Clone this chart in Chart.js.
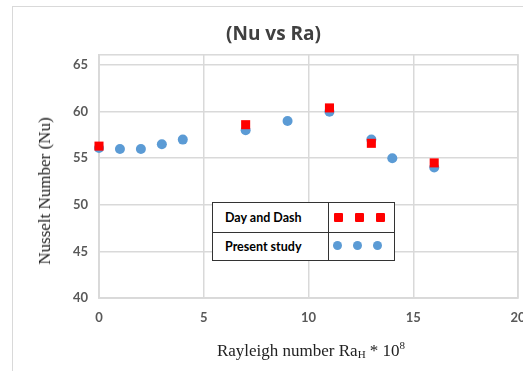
<!DOCTYPE html>
<html>
<head>
<meta charset="utf-8">
<script src="https://cdn.jsdelivr.net/npm/chart.js@4/dist/chart.umd.min.js"></script>
<style>
  html, body { margin:0; padding:0; background:#fff; overflow:hidden; width:523px; height:371px; }
  #frame { position:absolute; left:12px; top:6px; width:600px; height:500px; border:1px solid #d9d9d9; box-sizing:border-box; }
  #c { position:absolute; left:0; top:0; }
  .ytitle { position:absolute; left:45px; top:191px; transform:translate(-50%,-50%) rotate(-90deg); white-space:nowrap;
            font-family:'Liberation Serif', serif; font-size:17px; color:#222; }
  .xtitle { position:absolute; left:311px; top:350px; transform:translate(-50%,-50%); white-space:nowrap;
            font-family:'Liberation Serif', serif; font-size:17px; color:#222; }
  .xtitle sub { font-size:11px; vertical-align:-2px; }
  .xtitle sup { font-size:11px; vertical-align:7px; }
  #legend { position:absolute; left:212px; top:202px; width:183px; height:59px; border:1px solid #333; box-sizing:border-box; background:#fff; }
  #legend .row { position:absolute; left:0; width:100%; height:29px; }
  #legend .lab { position:absolute; left:12px; top:0; height:29px; line-height:29px; font-family:Lato, sans-serif; font-weight:bold; font-size:12.5px; color:#000; }
  #legend .vd { position:absolute; left:115px; top:0; width:1px; height:57px; background:#333; }
  #legend .hd { position:absolute; left:0; top:29px; width:181px; height:1px; background:#333; }
  .sq { position:absolute; width:9px; height:9px; background:#ff0000; border-radius:1px; }
  .ci { position:absolute; width:9px; height:9px; background:#5B9BD5; border-radius:50%; }
</style>
</head>
<body>
<div id="frame"></div>
<canvas id="c" width="560" height="371"></canvas>
<div class="ytitle">Nusselt Number (Nu)</div>
<div class="xtitle">Rayleigh number Ra<sub>H</sub> * 10<sup>8</sup></div>
<div id="legend">
  <div class="row" style="top:0"><div class="lab">Day and Dash</div></div>
  <div class="row" style="top:29px"><div class="lab">Present study</div></div>
  <div class="vd"></div>
  <div class="hd"></div>
  <div class="sq" style="left:121px;top:10px"></div>
  <div class="sq" style="left:142px;top:10px"></div>
  <div class="sq" style="left:163px;top:10px"></div>
  <div class="ci" style="left:120px;top:38px"></div>
  <div class="ci" style="left:140px;top:38px"></div>
  <div class="ci" style="left:160px;top:38px"></div>
</div>
<script>
// ---- data ----
const titleText = '(Nu vs Ra)';
const presentLabel = 'Present study';
const presentRa = [0, 1, 2, 3, 4, 7, 9, 11, 13, 14, 16];
const presentNu = [56.1, 56, 56, 56.5, 57, 58, 59, 60, 57, 55, 54];
const dayDashLabel = 'Day and Dash';
const dayDashRa = [0, 7, 11, 13, 16];
const dayDashNu = [56.3, 58.6, 60.4, 56.6, 54.5];
const xTicks = [0, 5, 10, 15, 20];
const yTicks = [40, 45, 50, 55, 60, 65];

const gridColor = '#d9d9d9';

const plotBorder = {
  id: 'plotBorder',
  beforeDatasetsDraw(chart) {
    const a = chart.chartArea, ctx = chart.ctx;
    ctx.save();
    ctx.strokeStyle = gridColor;
    ctx.lineWidth = 1.5;
    ctx.strokeRect(a.left, a.top, a.right - a.left, a.bottom - a.top);
    ctx.restore();
  }
};

function draw() {
  new Chart(document.getElementById('c'), {
    type: 'scatter',
    data: {
      datasets: [
        {
          label: dayDashLabel,
          data: dayDashRa.map((x, i) => ({ x, y: dayDashNu[i] })),
          pointStyle: 'rect',
          pointRadius: 6.4,
          pointHoverRadius: 6.4,
          backgroundColor: '#ff0000',
          borderWidth: 0,
          clip: false
        },
        {
          label: presentLabel,
          data: presentRa.map((x, i) => ({ x, y: presentNu[i] })),
          pointStyle: 'circle',
          pointRadius: 5,
          pointHoverRadius: 5,
          backgroundColor: '#5B9BD5',
          borderWidth: 0,
          clip: false
        }
      ]
    },
    options: {
      responsive: false,
      animation: false,
      events: [],
      layout: { padding: { left: 29, right: 42, top: 0, bottom: 0 } },
      plugins: {
        legend: { display: false },
        tooltip: { enabled: false },
        title: {
          display: true,
          text: titleText,
          color: '#404040',
          font: { family: 'Open Sans', weight: 'bold', size: 19 },
          padding: { top: 23, bottom: 9 }
        }
      },
      scales: {
        x: {
          type: 'linear',
          min: xTicks[0],
          max: xTicks[xTicks.length - 1],
          afterBuildTicks: s => { s.ticks = xTicks.map(v => ({ value: v })); },
          afterFit: s => { s.height = 73; },
          grid: { color: gridColor, lineWidth: 1.5, drawTicks: false },
          border: { color: gridColor, width: 1.5 },
          ticks: { color: '#595959', font: { family: 'Lato', weight: 'bold', size: 13 }, padding: 12, maxRotation: 0 }
        },
        y: {
          type: 'linear',
          min: 40,
          max: 66.1,
          afterBuildTicks: s => { s.ticks = yTicks.map(v => ({ value: v })); },
          afterFit: s => { s.width = 70; },
          grid: { color: gridColor, lineWidth: 1.5, drawTicks: false },
          border: { color: gridColor, width: 1.5 },
          ticks: { color: '#595959', font: { family: 'Lato', weight: 'bold', size: 13 }, padding: 11 }
        }
      }
    },
    plugins: [plotBorder]
  });
}

Promise.all([
  document.fonts.load('bold 19px "Open Sans"'),
  document.fonts.load('bold 13px Lato'),
  document.fonts.load('17px "Liberation Serif"')
]).then(draw, draw);
</script>
</body>
</html>
